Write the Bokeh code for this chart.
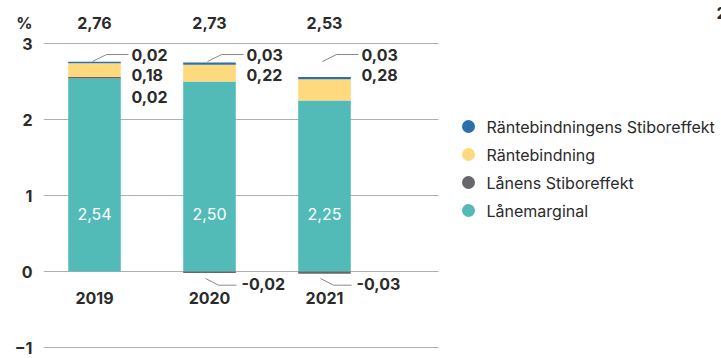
import numpy as np
from bokeh.plotting import figure
from bokeh.models import Range1d, FixedTicker
from bokeh.core.properties import value
from bokeh.embed import file_html
from bokeh.resources import INLINE

# ---- data ----
years = ["2019", "2020", "2021"]
lanemarginal = [2.54, 2.50, 2.25]
lanens_stibor = [0.02, -0.02, -0.03]
rantebindning = [0.18, 0.22, 0.28]
rb_stibor = [0.02, 0.03, 0.03]
totals = [2.76, 2.73, 2.53]
y_ticks = [-1, 0, 1, 2, 3]
unit_label = "%"
series_names = ["Räntebindningens Stiboreffekt", "Räntebindning",
                "Lånens Stiboreffekt", "Lånemarginal"]

# ---- styles ----
FONT = "Inter"
DARK = "#2b2b2b"
C_BLUE = "#2b70ab"
C_YELLOW = "#ffd97e"
C_GREY = "#67676b"
C_TEAL = "#52bbb8"
PX = 1 / 115.0  # data units per pixel along x
PY = 1 / 76.0   # data units per pixel along y
TOP_ROW = 3.276  # y of the totals row
FS = "16px"


def fmt(v):
    return f"{v:.2f}".replace(".", ",")


x = np.arange(len(years), dtype=float)
lm = np.array(lanemarginal)
ls = np.array(lanens_stibor)
rb = np.array(rantebindning)
rbs = np.array(rb_stibor)

grey_bottom = np.where(ls > 0, lm, ls)
grey_top = np.where(ls > 0, lm + ls, 0)
y_bottom = lm + np.maximum(ls, 0)
y_top = y_bottom + rb
b_bottom = y_top
b_top = b_bottom + rbs

p = figure(width=721, height=358, output_backend="svg", toolbar_location=None,
           x_axis_type=None, min_border_left=43, min_border_right=0,
           min_border_top=0, min_border_bottom=0)
p.x_range = Range1d(-51 * PX, (721 - 94) * PX)
p.y_range = Range1d(-1 - 11 * PY, 3 + 43 * PY)
p.outline_line_color = None
p.background_fill_color = "white"
p.border_fill_color = "white"
p.xgrid.visible = False
p.ygrid.visible = False

# horizontal grid lines limited to the chart area
p.segment(x0=[-51 * PX] * len(y_ticks), x1=[344 * PX] * len(y_ticks),
          y0=y_ticks, y1=y_ticks, line_color="#b0b0b0", line_width=1, level="underlay")

ax = p.yaxis[0]
ax.ticker = FixedTicker(ticks=y_ticks + [TOP_ROW])
ax.major_label_overrides = {TOP_ROW: unit_label}
ax.axis_line_color = None
ax.major_tick_line_color = None
ax.minor_tick_line_color = None
ax.major_tick_out = 0
ax.major_label_standoff = 11
ax.major_label_text_font = FONT
ax.major_label_text_font_size = FS
ax.major_label_text_font_style = "bold"
ax.major_label_text_color = DARK

W = 52.6 * PX
p.vbar(x=x, bottom=0, top=lm, width=W, fill_color=C_TEAL, line_color=None)
p.vbar(x=x, bottom=grey_bottom, top=grey_top, width=W, fill_color=C_GREY, line_color=None)
p.vbar(x=x, bottom=y_bottom, top=y_top, width=W, fill_color=C_YELLOW, line_color=None)
p.vbar(x=x, bottom=b_bottom, top=b_top, width=W, fill_color=C_BLUE, line_color=None)

# labels to the right of each bar
levels = [2.855, 2.58, 2.30]
lx, ly, lt = [], [], []
nx, ny, nt = [], [], []
lead_xs, lead_ys = [], []
for i in range(len(years)):
    vals = [rbs[i], rb[i]] + ([ls[i]] if ls[i] > 0 else [])
    for k, v in enumerate(vals):
        lx.append(x[i]); ly.append(levels[k]); lt.append(fmt(v))
    lead_xs.append([x[i] - 2 * PX, x[i] + 12 * PX, x[i] + 34 * PX])
    lead_ys.append([levels[0] - 7 * PY, levels[0], levels[0]])
    if ls[i] < 0:
        nx.append(x[i]); ny.append(-0.171); nt.append(fmt(ls[i]))
        lead_xs.append([x[i] - 4 * PX, x[i] + 9 * PX, x[i] + 27 * PX])
        lead_ys.append([-0.092, -0.18, -0.18])

p.multi_line(xs=lead_xs, ys=lead_ys, line_color="#8a8a8a", line_width=1)
p.text(x=lx, y=ly, text=lt, x_offset=37, text_align="left", text_baseline="middle",
       text_font=value(FONT), text_font_size=FS, text_font_style="bold", text_color=DARK)
p.text(x=nx, y=ny, text=nt, x_offset=32, text_align="left", text_baseline="middle",
       text_font=value(FONT), text_font_size=FS, text_font_style="bold", text_color=DARK)

# values inside teal bars
p.text(x=x, y=[0.763] * len(x), text=[fmt(v) for v in lm], text_align="center",
       text_baseline="middle", text_font=value(FONT), text_font_size="16px",
       text_color="white")

# totals on top
p.text(x=x, y=[TOP_ROW] * len(x), text=[fmt(v) for v in totals], text_align="center",
       text_baseline="middle", text_font=value(FONT), text_font_size=FS,
       text_font_style="bold", text_color=DARK)

# year labels
p.text(x=x, y=[-0.355] * len(x), text=years, text_align="center", text_baseline="middle",
       text_font=value(FONT), text_font_size=FS, text_font_style="bold", text_color=DARK)

# clipped label at the top-right edge (as in the reference)
p.text(x=[(716 - 94) * PX], y=[3 + 31 * PY], text=["2"], text_align="left",
       text_baseline="middle", text_font=value(FONT), text_font_size=FS,
       text_font_style="bold", text_color=DARK)

# legend: circle markers and names
colors = [C_BLUE, C_YELLOW, C_GREY, C_TEAL]
n = len(series_names)
leg_y = [(271 - (126 + 28 * k)) * PY for k in range(n)]
p.scatter(x=[(468 - 94) * PX] * n, y=leg_y, marker="circle", size=13,
          fill_color=colors, line_color=None)
p.text(x=[(486 - 94) * PX] * n, y=leg_y, text=series_names, text_align="left",
       text_baseline="middle", text_font=value(FONT), text_font_size="16px",
       text_color=DARK)

open("out.html", "w").write(file_html(p, INLINE))
